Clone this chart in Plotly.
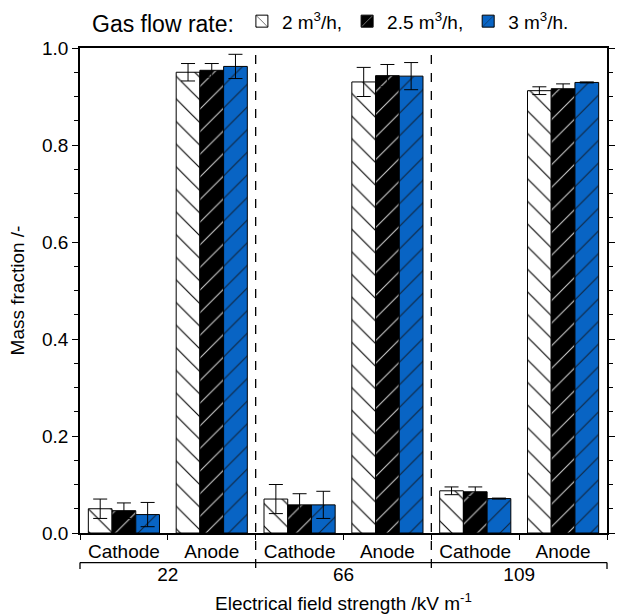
import plotly.graph_objects as go

# Electrical field strength groups and electrode per bar slot
fields = ["22", "22", "66", "66", "109", "109"]
electrodes = ["Cathode", "Anode", "Cathode", "Anode", "Cathode", "Anode"]

# Mass fraction and standard deviation for each gas flow rate
frac_2 = [0.050, 0.950, 0.070, 0.930, 0.087, 0.912]
err_2 = [0.020, 0.018, 0.030, 0.030, 0.008, 0.008]
frac_25 = [0.046, 0.954, 0.058, 0.943, 0.085, 0.916]
err_25 = [0.016, 0.014, 0.023, 0.023, 0.010, 0.010]
frac_3 = [0.038, 0.962, 0.058, 0.942, 0.071, 0.929]
err_3 = [0.025, 0.025, 0.028, 0.028, 0.001, 0.001]

series_names = ["2 m<sup>3</sup>/h,", "2.5 m<sup>3</sup>/h,", "3 m<sup>3</sup>/h."]
FONT = "Liberation Sans, Arial, sans-serif"
FS = 19
BLUE = "#0864c4"

styles = [
    dict(bg="white", fg="black", shape="\\"),
    dict(bg="black", fg="#c8c8c8", shape="/"),
    dict(bg=BLUE, fg="#10243c", shape="/"),
]

fig = go.Figure()
x = [fields, electrodes]
for name, vals, errs, st in zip(series_names, [frac_2, frac_25, frac_3],
                                [err_2, err_25, err_3], styles):
    fig.add_trace(go.Bar(
        x=x, y=vals, name=name,
        marker=dict(color=st["bg"], line=dict(color="black", width=1),
                    pattern=dict(shape=st["shape"], fgcolor=st["fg"],
                                 bgcolor=st["bg"], size=16, solidity=0.07,
                                 fillmode="replace")),
        error_y=dict(type="data", array=errs, visible=True,
                     color="black", thickness=1, width=7),
    ))

# Dashed separators between field-strength groups and the group bracket
BRACKET_Y = -0.061
shapes = []
for xp in (1 / 3, 2 / 3):
    shapes.append(dict(type="line", xref="paper", yref="paper",
                       x0=xp, x1=xp, y0=-0.072, y1=1,
                       line=dict(color="black", width=1.3, dash="dash")))
shapes.append(dict(type="line", xref="paper", yref="paper",
                   x0=0, x1=1, y0=BRACKET_Y, y1=BRACKET_Y,
                   line=dict(color="black", width=1.3)))
for xp in (0, 1):
    shapes.append(dict(type="line", xref="paper", yref="paper",
                       x0=xp, x1=xp, y0=BRACKET_Y, y1=BRACKET_Y - 0.013,
                       line=dict(color="black", width=1.3)))

fig.update_layout(
    width=617, height=614,
    margin=dict(l=80, r=2, t=44, b=81),
    paper_bgcolor="white", plot_bgcolor="white",
    font=dict(family=FONT, size=FS, color="black"),
    barmode="group", bargap=0.19, bargroupgap=0,
    shapes=shapes,
    showlegend=True,
    legend=dict(orientation="h", x=0.019, xanchor="left", y=1.053,
                yanchor="middle", title=dict(text="Gas flow rate:", side="left"),
                font=dict(size=FS), itemwidth=30, traceorder="normal",
                tracegroupgap=0),
    xaxis=dict(type="multicategory", showline=True, linecolor="black",
               linewidth=1.5, mirror=True, ticks="outside", ticklen=5,
               tickcolor="black", showdividers=False, showgrid=False,
               tickfont=dict(size=FS),
               title=dict(text="Electrical field strength /kV m<sup>-1</sup>",
                          standoff=13, font=dict(size=FS))),
    yaxis=dict(range=[0, 1], dtick=0.2, tickformat=".1f", showline=True,
               linecolor="black", linewidth=1.5, mirror="ticks",
               ticks="outside", ticklen=6, tickcolor="black", showgrid=False,
               zeroline=False, tickfont=dict(size=FS),
               minor=dict(dtick=0.05, ticks="outside", ticklen=4,
                          tickcolor="black"),
               title=dict(text="Mass fraction /-", standoff=12,
                          font=dict(size=FS))),
)

fig.write_html("out.html")
